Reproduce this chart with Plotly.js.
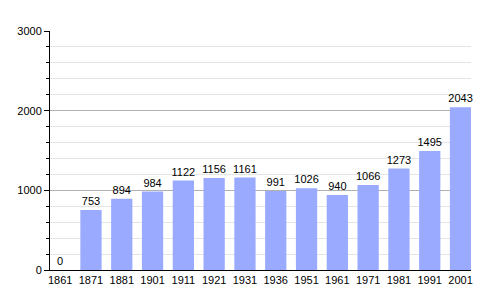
<!DOCTYPE html>
<html><head><meta charset="utf-8">
<script src="https://cdn.plot.ly/plotly-3.0.1.min.js"></script>
<style>html,body{margin:0;padding:0;background:#fff}</style>
</head><body><div id="chart" style="width:500px;height:300px"></div>
<script>
const years = ["1861","1871","1881","1901","1911","1921","1931","1936","1951","1961","1971","1981","1991","2001"];
const population = [0,753,894,984,1122,1156,1161,991,1026,940,1066,1273,1495,2043];
const labels = population.map(String);

Plotly.newPlot('chart', [{
  type: 'bar', x: years, y: population, text: labels,
  textposition: 'outside', cliponaxis: false,
  textfont: {family: 'Liberation Sans, Arial', size: 11, color: '#000'},
  marker: {color: '#99aaff'}, hoverinfo: 'none'
}], {
  width: 500, height: 300,
  margin: {l: 50, r: 29, t: 31, b: 30},
  paper_bgcolor: '#fff', plot_bgcolor: '#fff',
  bargap: 0.31, showlegend: false,
  uniformtext: {mode: 'show', minsize: 11},
  font: {family: 'Liberation Sans, Arial', size: 11, color: '#000'},
  xaxis: {type: 'category', range: [-0.33, 13.34], showline: true, linecolor: '#000', linewidth: 1,
    ticks: '', tickfont: {size: 11}, showgrid: false, zeroline: false},
  yaxis: {range: [0, 3000], dtick: 1000, showline: true, linecolor: '#000', linewidth: 1,
    ticks: 'outside', ticklen: 5, tickcolor: '#000', tickfont: {size: 11},
    gridcolor: '#b0b0b0', zeroline: false,
    minor: {dtick: 200, ticks: 'outside', ticklen: 3, tickcolor: '#000', showgrid: true, gridcolor: '#e4e4e4'}}
}, {displayModeBar: false, staticPlot: true});
</script></body></html>
